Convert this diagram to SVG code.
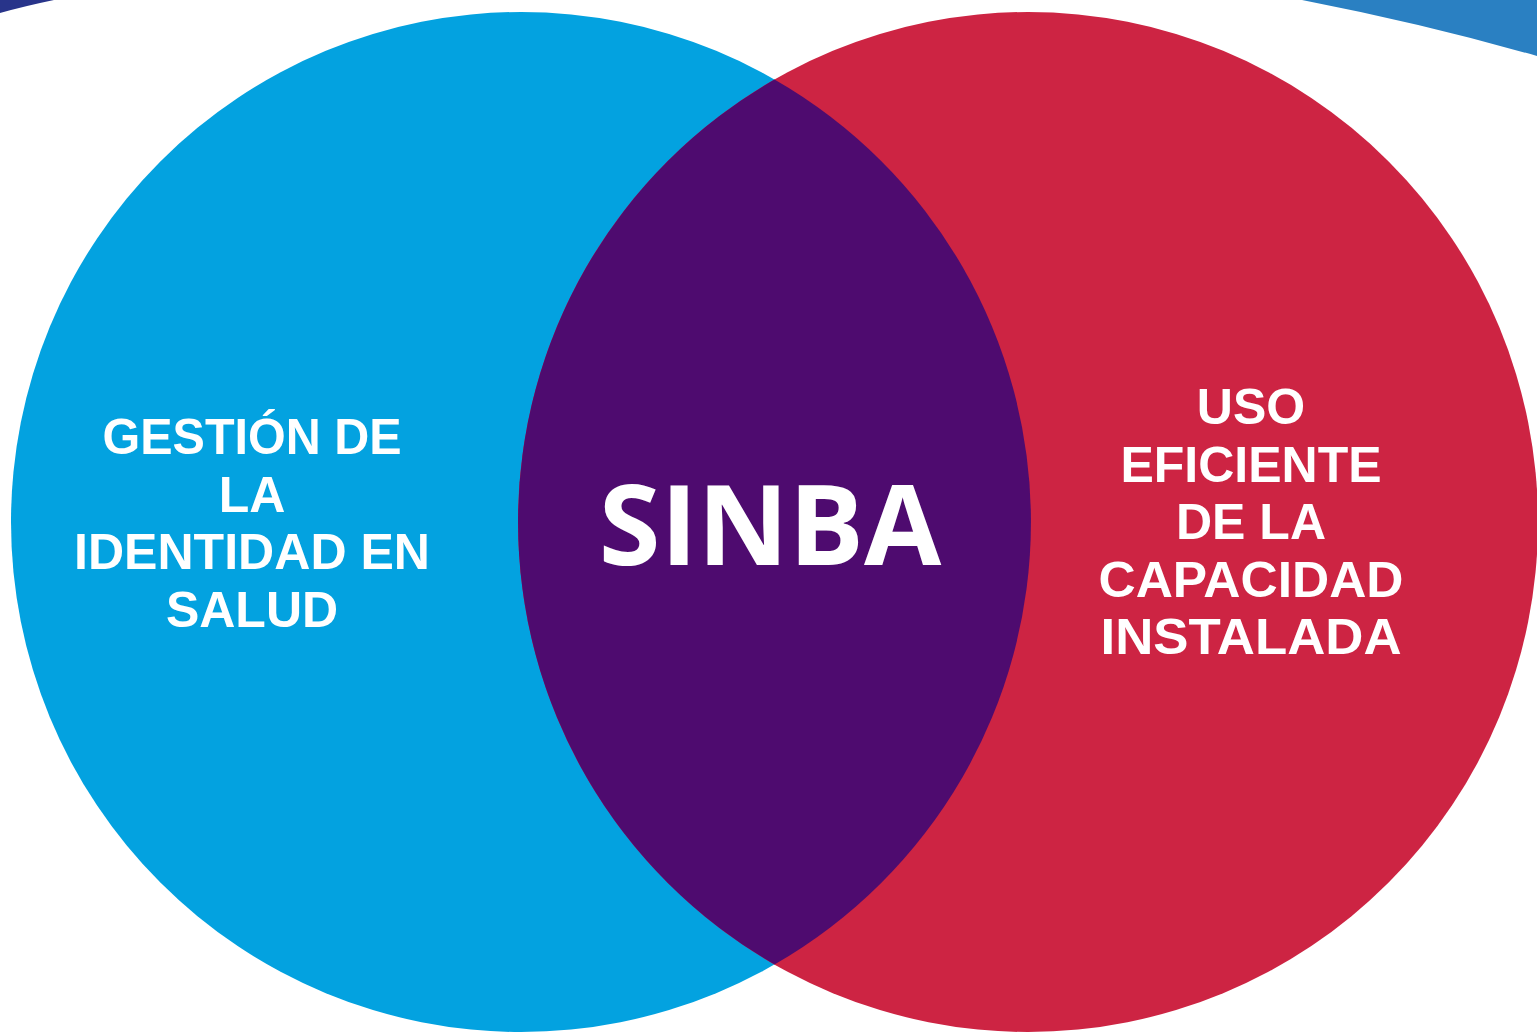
<svg xmlns="http://www.w3.org/2000/svg" width="1537" height="1034" viewBox="0 0 1537 1034">
<style>
.lbl{font-family:"Liberation Sans",Arial,sans-serif;font-weight:700;fill:#ffffff;text-anchor:middle;font-size:50px}
.big{font-family:"Open Sans","Liberation Sans",sans-serif;font-weight:700;fill:#ffffff;text-anchor:middle;font-size:112px}
</style>
<rect x="0" y="0" width="1537" height="1034" fill="#ffffff"/>
<g id="decor">
<path d="M0,0 L54,0 Q25,6 0,13 Z" fill="#28348A"/>
<path d="M1302,0 Q1425,24 1537,56 L1537,0 Z" fill="#2A80C2"/>
</g>
<g id="node-gestion">
<circle cx="521" cy="522" r="510" fill="#03A2E0"/>
<text class="lbl" x="252" y="454" textLength="299" lengthAdjust="spacingAndGlyphs">GESTIÓN DE</text>
<text class="lbl" x="252" y="511.5">LA</text>
<text class="lbl" x="252" y="569" textLength="356" lengthAdjust="spacingAndGlyphs">IDENTIDAD EN</text>
<text class="lbl" x="252" y="626.5">SALUD</text>
</g>
<g id="node-uso">
<circle cx="1028" cy="522" r="510" fill="#CD2443"/>
<text class="lbl" x="1251" y="424">USO</text>
<text class="lbl" x="1251" y="481.5">EFICIENTE</text>
<text class="lbl" x="1251" y="539">DE LA</text>
<text class="lbl" x="1251" y="596.5" textLength="305" lengthAdjust="spacingAndGlyphs">CAPACIDAD</text>
<text class="lbl" x="1251" y="654" textLength="301" lengthAdjust="spacingAndGlyphs">INSTALADA</text>
</g>
<g id="node-sinba">
<path d="M774.5,79.5 A510,510 0 0,1 774.5,964.5 A510,510 0 0,1 774.5,79.5 Z" fill="#4E0B6F"/>
<text class="big" x="770" y="565">SINBA</text>
</g>
<g id="connectors"></g>
</svg>
